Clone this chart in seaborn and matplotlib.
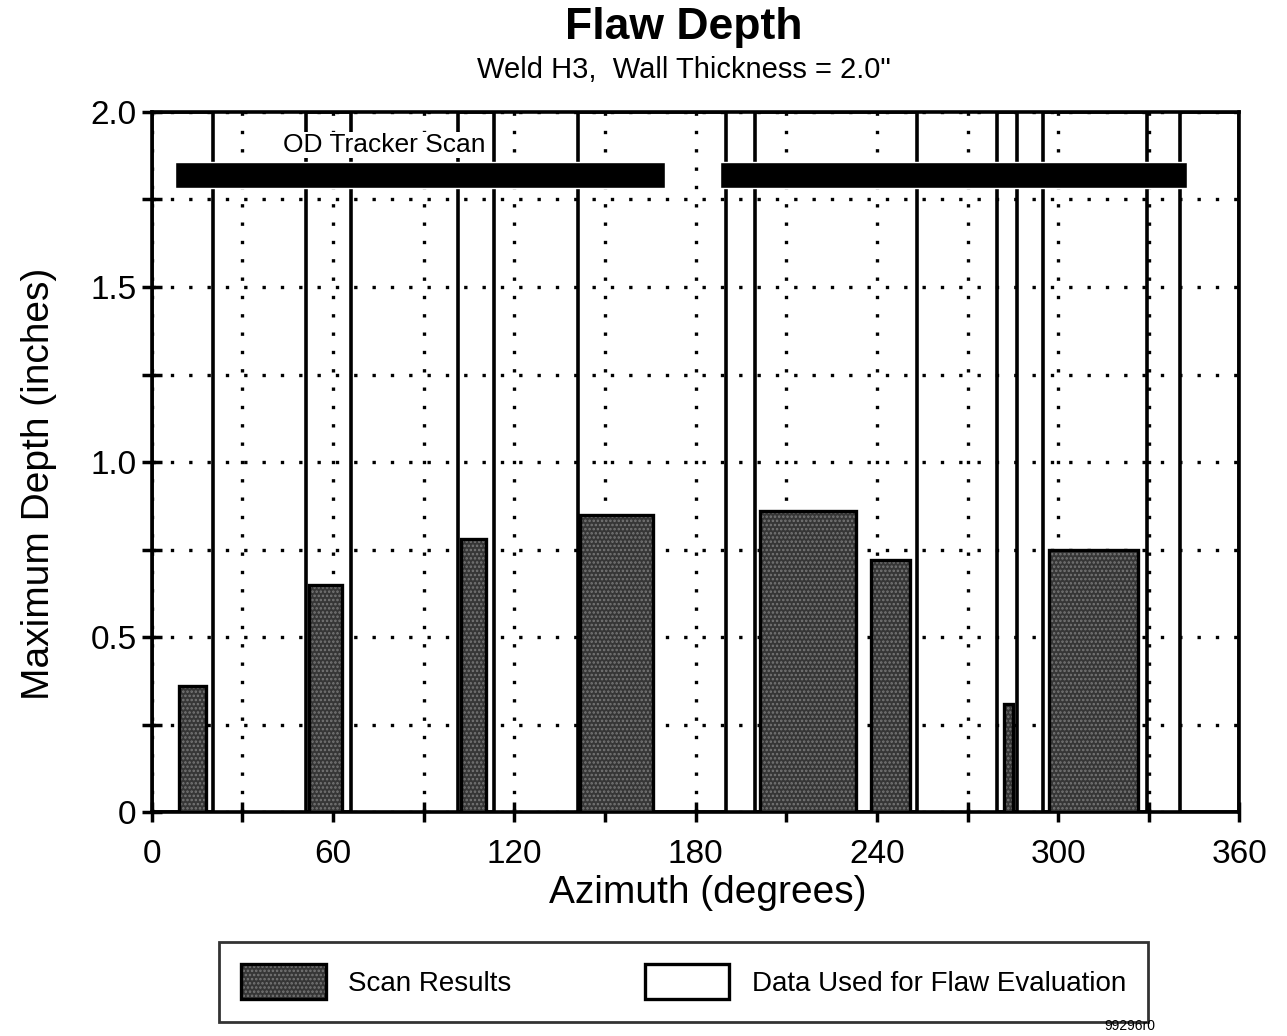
import matplotlib
matplotlib.use("Agg")
import matplotlib.pyplot as plt
from matplotlib.patches import Patch
import seaborn as sns

# ---- data ----
scan_start = [8.9, 52.1, 102.4, 141.8, 201.3, 238.2, 282.1, 296.9]
scan_end = [17.8, 63.1, 110.5, 165.8, 233.2, 250.8, 285.0, 326.4]
scan_depth = [0.36, 0.65, 0.78, 0.85, 0.86, 0.72, 0.31, 0.75]

eval_start = [0.0, 50.9, 101.3, 140.9, 199.5, 279.8, 295.1, 340.5]
eval_end = [20.1, 66.0, 113.1, 190.0, 253.2, 286.3, 329.3, 360.0]
eval_height = [2.0] * len(eval_start)

tracker_start = [7.6, 188.0]
tracker_end = [169.8, 342.6]
tracker_level = 1.82

x_ticks = [0, 60, 120, 180, 240, 300, 360]
x_tick_labels = ["0", "60", "120", "180", "240", "300", "360"]
y_ticks = [0, 0.5, 1.0, 1.5, 2.0]
y_tick_labels = ["0", "0.5", "1.0", "1.5", "2.0"]

title = "Flaw Depth"
subtitle = "Weld H3,  Wall Thickness = 2.0\""
legend_labels = ["Scan Results", "Data Used for Flaw Evaluation"]

# ---- style ----
sns.set_theme(style="white", rc={
    "text.color": "black", "axes.labelcolor": "black",
    "xtick.color": "black", "ytick.color": "black",
    "xtick.bottom": True, "ytick.left": True,
    "hatch.linewidth": 1.2,
})
plt.rcParams["font.family"] = ["Liberation Sans", "DejaVu Sans"]

fig = plt.figure(figsize=(12.87, 10.36), dpi=100)
ax = fig.add_axes([0.118, 0.216, 0.845, 0.676])

scan_color = "#363636"
stipple = "#777777"

# evaluation windows (white, outlined)
ax.bar(eval_start, eval_height,
       width=[e - s for s, e in zip(eval_start, eval_end)],
       align="edge", facecolor="none", edgecolor="black", linewidth=2.6, zorder=1.5)

# scan results (stippled fill + black outline)
scan_w = [e - s for s, e in zip(scan_start, scan_end)]
ax.bar(scan_start, scan_depth, width=scan_w, align="edge",
       facecolor=scan_color, edgecolor=stipple, hatch="....", linewidth=0, zorder=3)
ax.bar(scan_start, scan_depth, width=scan_w, align="edge",
       facecolor="none", edgecolor="black", linewidth=2.4, zorder=3.1)

# OD tracker scan bars
ax.broken_barh([(s, e - s) for s, e in zip(tracker_start, tracker_end)],
               (tracker_level - 0.037, 0.074), facecolors="black", zorder=4)
ax.text(77, 1.905, "OD Tracker Scan", ha="center", va="center", fontsize=19, zorder=5,
        bbox=dict(facecolor="white", edgecolor="none", pad=1))

ax.set_xlim(0, 360)
ax.set_ylim(0, 2.0)
ax.set_xticks(x_ticks)
ax.set_xticklabels(x_tick_labels, fontsize=24)
ax.set_xticks(range(30, 360, 60), minor=True)
ax.set_yticks(y_ticks)
ax.set_yticklabels(y_tick_labels, fontsize=24)
ax.set_yticks([0.25, 0.75, 1.25, 1.75], minor=True)
ax.tick_params(axis="both", which="both", direction="inout", length=14, width=2.5,
               color="black")
ax.tick_params(axis="x", which="major", pad=12)
ax.tick_params(axis="y", which="major", pad=4)

ax.grid(True, which="both", color="black", linestyle=(0, (1, 4.5)), linewidth=2.4)
ax.set_axisbelow(True)

for side in ["left", "bottom", "top", "right"]:
    ax.spines[side].set_color("black")
    ax.spines[side].set_linewidth(2.6)

fig.text(0.550, 0.138, "Azimuth (degrees)", ha="center", va="center", fontsize=28)
fig.text(0.030, 0.533, "Maximum Depth (inches)", ha="center", va="center",
         rotation=90, fontsize=28)

fig.text(0.531, 0.973, title, ha="center", va="center", fontsize=32, fontweight="bold")
fig.text(0.531, 0.932, subtitle, ha="center", va="center", fontsize=21)

h_scan = (Patch(facecolor=scan_color, edgecolor=stipple, hatch="....", linewidth=0),
          Patch(facecolor="none", edgecolor="black", linewidth=2.4))
h_eval = Patch(facecolor="white", edgecolor="black", linewidth=2.4)
leg = fig.legend([h_scan, h_eval], legend_labels, loc="center",
                 bbox_to_anchor=(0.531, 0.0525),
                 ncol=2, frameon=True, fancybox=False, fontsize=20,
                 handlelength=3.05, handleheight=1.6, columnspacing=4.8,
                 borderpad=0.8, handletextpad=0.8, borderaxespad=0)
leg.get_frame().set_edgecolor("black")
leg.get_frame().set_linewidth(2)

fig.text(0.878, 0.003, "99296r0", ha="center", va="bottom", fontsize=10, zorder=10)

fig.savefig("out.png", dpi=100)
